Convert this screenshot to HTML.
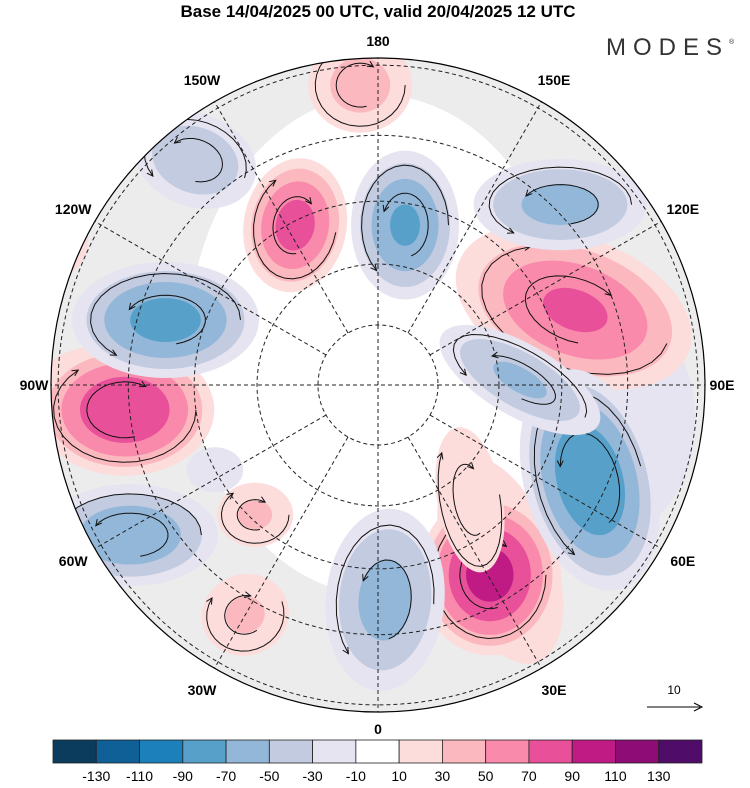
<!DOCTYPE html>
<html><head><meta charset="utf-8">
<style>
html,body{margin:0;padding:0;background:#fff;}
body{width:750px;height:783px;overflow:hidden;font-family:"Liberation Sans",sans-serif;}
svg text{font-family:"Liberation Sans",sans-serif;}
</style></head>
<body>
<svg id="chart" width="750" height="783" viewBox="0 0 750 783" xmlns="http://www.w3.org/2000/svg">
<text x="378" y="17" text-anchor="middle" font-size="17" font-weight="bold">Base 14/04/2025 00 UTC, valid 20/04/2025 12 UTC</text>
<text x="606" y="55" font-size="24" letter-spacing="7" fill="#333" font-weight="normal">MODES</text>
<text x="729" y="44" font-size="7" fill="#333">®</text>
<defs><clipPath id="disc"><circle cx="378" cy="385" r="327"/></clipPath></defs>
<g id="map" clip-path="url(#disc)"></g>
<circle cx="378" cy="385" r="327" fill="none" stroke="#000" stroke-width="1.2"/>
<g id="labels"></g>
<g id="cbar"></g>
<text x="674" y="694" text-anchor="middle" font-size="12">10</text>
<line x1="647" y1="707" x2="700" y2="707" stroke="#000" stroke-width="1"/>
<path d="M694 703 L702 707 L694 711" fill="none" stroke="#000"/>
</svg>
<script>
// colorbar data
const levels = [-130,-110,-90,-70,-50,-30,-10,10,30,50,70,90,110,130];
const colors = ["#0b3c5d","#0f6096","#1c80bb","#56a0ca","#93b7d8","#c3cbe1","#e6e4f0","#ffffff","#fddcdc","#fbb9bf","#f98aab","#e8509a","#c01a85","#8e0c76","#4f0c68"];
// anomaly centres: longitude (deg E), latitude, amplitude, semi-axes (px), rotation
const blobLon = [81.4,34.9,115,-86.9,-152.6,-176.6,110.8,-84.4,30.5,-43.4,-30,-114.5,-107,170.4,-140.9,134.7,65.9,-58.8,1.9,-62.5,38.7,92];
const blobLat = [52.2,55.4,57.3,45.8,60.6,42.7,55.8,49.3,54.4,60.8,47.7,36,54.1,63.4,44.2,49,52.6,44.2,55.2,60,65.8,66.6];
const blobAmp = [-25,25,25,25,80,40,75,90,100,35,35,20,-80,-75,-50,-60,-90,-70,-60,-20,30,-55];
const blobRx = [110,70,140,90,55,60,130,95,75,45,52,40,100,58,70,95,70,95,65,40,40,100];
const blobRy = [150,140,90,70,72,55,78,70,85,38,48,50,62,80,52,50,120,55,100,32,90,40];
const blobRot = [0,-20,20,0,10,0,20,0,0,0,-20,0,0,0,20,0,-15,0,5,0,-10,30];
const cx=378, cy=385, S=686;
const NS="http://www.w3.org/2000/svg";
function proj(lon,lat){const r=S*Math.tan((90-lat)*Math.PI/360);const a=lon*Math.PI/180;return [cx+r*Math.sin(a), cy+r*Math.cos(a)];}
function colorFor(v){for(let i=0;i<levels.length;i++){if(v<levels[i])return colors[i];}return colors[colors.length-1];}
function mk(tag,attrs,parent){const e=document.createElementNS(NS,tag);for(const k in attrs)e.setAttribute(k,attrs[k]);parent.appendChild(e);return e;}
const map=document.getElementById('map');
const bg=mk('circle',{cx:cx,cy:cy,r:327,fill:'#ececec'},map);


const wz=mk('ellipse',{cx:cx,cy:cy-40,rx:190,ry:250,fill:'#fff'},map);


const wz3=mk('circle',{cx:cx,cy:cy,r:110,fill:'#fff'},map);


// anomaly contours
for(let b=0;b<blobAmp.length;b++){
  const [x,y]=proj(blobLon[b],blobLat[b]);const A=blobAmp[b];const s=Math.sign(A);
  const g=mk('g',{transform:`rotate(${blobRot[b]} ${x} ${y})`},map);
  
  
  for(let lv=10;lv<Math.abs(A);lv+=20){
    const f=Math.sqrt(1-lv/Math.abs(A));
    const e=mk('ellipse',{cx:x,cy:y,rx:blobRx[b]*f,ry:blobRy[b]*f,fill:colorFor(s*(lv+1))},g);
    
    
  }
  if(Math.abs(A)<30) continue;
  const dir=A>0?1:-1;
  for(let k=0;k<2;k++){
    const fr=k?0.4:0.75;const rx=blobRx[b]*fr, ry=blobRy[b]*fr;
    const a0=k*1.3, a1=a0+dir*4.0;
    let d='';const N=20;
    for(let i=0;i<=N;i++){const t=a0+(a1-a0)*i/N;d+=(i?'L':'M')+(x+rx*Math.cos(t)).toFixed(1)+' '+(y+ry*Math.sin(t)).toFixed(1);}
    const p=mk('path',{d:d,fill:'none',stroke:'#111','stroke-width':1},g);
    
    
    const t=a1, hx=x+rx*Math.cos(t), hy=y+ry*Math.sin(t);
    const tx=-rx*Math.sin(t)*dir, ty=ry*Math.cos(t)*dir;const L=Math.hypot(tx,ty)||1;const ux=tx/L, uy=ty/L;
    const h=mk('path',{d:`M${hx-6*ux-3*uy} ${hy-6*uy+3*ux} L${hx} ${hy} L${hx-6*ux+3*uy} ${hy-6*uy-3*ux}`,fill:'none',stroke:'#111','stroke-width':1},g);
    
    
  }
}
// graticule
const lats=[80,70,60,50,40];
lats.forEach(l=>{const r=S*Math.tan((90-l)*Math.PI/360);const c=mk('circle',{cx:cx,cy:cy,r:r,fill:'none',stroke:'#222','stroke-width':1,'stroke-dasharray':'4,3'},map);

});
for(let lon=0;lon<360;lon+=30){const [x1,y1]=proj(lon,80);const [x2,y2]=proj(lon,30);
const m=mk('line',{x1:x1,y1:y1,x2:x2,y2:y2,stroke:'#222','stroke-width':1,'stroke-dasharray':'4,3'},map);

}
{const m1=mk('line',{x1:cx,y1:cy-60,x2:cx,y2:cy+60,stroke:'#222','stroke-width':1,'stroke-dasharray':'4,3'},map);


const m2=mk('line',{x1:cx-60,y1:cy,x2:cx+60,y2:cy,stroke:'#222','stroke-width':1,'stroke-dasharray':'4,3'},map);

}
// labels
const lonLabels=["0","30E","60E","90E","120E","150E","180","150W","120W","90W","60W","30W"];
const lab=document.getElementById('labels');
lonLabels.forEach((t,i)=>{const a=i*30*Math.PI/180;const R=i%3===0?344:352;
const x=cx+R*Math.sin(a), y=cy+R*Math.cos(a)+5;
const e=mk('text',{x:x.toFixed(1),y:y.toFixed(1),'text-anchor':'middle','font-size':14,'font-weight':'bold'},lab);e.textContent=t;

});
// colorbar
const cb=document.getElementById('cbar');const x0=53,w=(702-53)/colors.length;
colors.forEach((c,i)=>{const r=mk('rect',{x:x0+i*w,y:740,width:w,height:23,fill:c,stroke:'#222','stroke-width':0.8},cb);

});
levels.forEach((v,i)=>{const t=mk('text',{x:x0+(i+1)*w,y:781,'text-anchor':'middle','font-size':14},cb);t.textContent=v;

});
</script>
</body></html>
